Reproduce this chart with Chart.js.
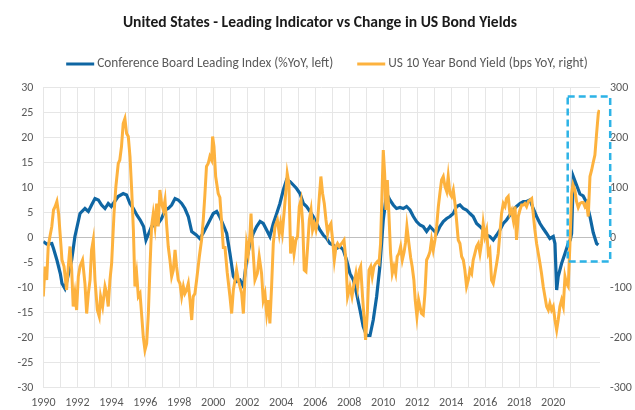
<!DOCTYPE html>
<html><head><meta charset="utf-8">
<script src="https://cdn.jsdelivr.net/npm/chart.js@4/dist/chart.umd.min.js"></script>
<style>html,body{margin:0;padding:0;background:#fff}#wrap{width:635px;height:410px}</style>
</head><body><div id="wrap"><canvas id="c" width="635" height="410"></canvas></div>
<script>
const chartTitle = 'United States - Leading Indicator vs Change in US Bond Yields';
const seriesNames = ['Conference Board Leading Index (%YoY, left)', 'US 10 Year Bond Yield (bps YoY, right)'];

const leadYears = [1990.0,1990.2,1990.5,1990.6,1990.8,1991.0,1991.1,1991.27,1991.4,1991.67,1991.86,1992.16,1992.45,1992.65,1992.84,1993.04,1993.24,1993.43,1993.63,1993.82,1994.0,1994.2,1994.4,1994.7,1994.9,1995.1,1995.3,1995.5,1995.7,1995.9,1996.04,1996.2,1996.37,1996.57,1996.76,1996.96,1997.16,1997.35,1997.55,1997.75,1997.94,1998.14,1998.33,1998.53,1998.73,1999.0,1999.2,1999.4,1999.7,2000.0,2000.2,2000.4,2000.59,2000.79,2000.98,2001.18,2001.37,2001.57,2001.77,2001.96,2002.16,2002.35,2002.55,2002.75,2002.94,2003.14,2003.33,2003.53,2003.73,2003.92,2004.12,2004.31,2004.51,2004.71,2004.9,2005.1,2005.3,2005.49,2005.69,2005.88,2006.08,2006.27,2006.47,2006.67,2006.86,2007.06,2007.25,2007.45,2007.65,2007.84,2008.04,2008.24,2008.43,2008.63,2008.82,2009.02,2009.22,2009.41,2009.61,2009.8,2010.0,2010.1,2010.2,2010.39,2010.59,2010.78,2010.98,2011.18,2011.37,2011.57,2011.77,2011.96,2012.16,2012.35,2012.55,2012.75,2012.94,2013.14,2013.33,2013.53,2013.73,2013.92,2014.12,2014.31,2014.51,2014.71,2014.9,2015.1,2015.29,2015.49,2015.69,2015.88,2016.08,2016.27,2016.47,2016.67,2016.86,2017.06,2017.25,2017.45,2017.65,2017.84,2018.04,2018.24,2018.43,2018.63,2018.82,2019.02,2019.22,2019.41,2019.61,2019.8,2020.0,2020.1,2020.2,2020.29,2020.49,2020.69,2020.88,2021.0,2021.08,2021.18,2021.37,2021.57,2021.76,2021.96,2022.16,2022.35,2022.55,2022.65];
const leadValues = [-0.8,-1.3,-1.2,-2.2,-4.5,-7.2,-9.2,-10.2,-8.5,-4.5,0.2,4.8,5.8,5.2,6.5,7.8,7.5,6.5,5.8,6.8,6.2,7.2,8.2,8.8,8.5,6.8,5.8,4.5,3.5,2.2,-0.5,0.8,2.2,2.5,2.8,3.8,5.5,5.8,6.5,7.8,7.5,6.8,5.8,4.2,1.2,0.5,-0.2,0.8,2.8,4.8,5.2,4.0,2.5,0.8,-3.2,-7.8,-8.8,-8.5,-9.8,-4.5,-1.2,0.8,2.2,3.2,2.8,1.5,0.2,2.8,4.8,6.8,9.5,11.5,11.2,10.5,9.8,8.8,6.8,6.2,5.2,4.2,2.8,1.5,0.5,-0.2,-1.2,-1.5,-2.2,-1.8,-2.5,-4.5,-7.2,-8.5,-11.2,-14.5,-17.8,-19.6,-19.6,-16.5,-11.8,-5.8,3.5,6.2,8.8,7.5,6.5,5.8,6.0,5.8,6.2,5.5,4.2,3.2,2.5,2.2,1.2,2.2,1.5,0.8,2.2,3.2,3.8,4.2,4.8,6.2,6.5,5.8,5.5,4.8,4.2,2.8,2.2,1.5,0.5,0.2,-0.5,0.5,1.5,2.8,3.5,4.5,5.5,6.2,6.8,7.2,7.2,7.5,5.8,4.2,2.8,1.8,0.8,-0.2,0.2,-1.2,-10.5,-7.8,-5.2,-3.2,-1.2,-0.5,0.8,12.2,10.5,8.7,8.3,7.0,4.2,1.0,-1.2,-1.5];

const yieldYears = [1990.0,1990.1,1990.2,1990.29,1990.39,1990.5,1990.6,1990.7,1990.8,1990.9,1991.0,1991.1,1991.22,1991.37,1991.47,1991.57,1991.67,1991.76,1991.86,1991.96,1992.06,1992.16,1992.31,1992.45,1992.55,1992.65,1992.75,1992.84,1992.94,1993.04,1993.18,1993.29,1993.37,1993.49,1993.63,1993.73,1993.82,1993.92,1994.02,1994.16,1994.27,1994.41,1994.5,1994.6,1994.7,1994.8,1994.9,1995.0,1995.1,1995.2,1995.3,1995.39,1995.49,1995.59,1995.69,1995.78,1995.88,1995.98,1996.08,1996.18,1996.27,1996.37,1996.47,1996.57,1996.67,1996.76,1996.86,1996.96,1997.06,1997.16,1997.25,1997.35,1997.45,1997.55,1997.65,1997.75,1997.84,1997.94,1998.04,1998.14,1998.24,1998.33,1998.43,1998.53,1998.63,1998.73,1998.82,1998.92,1999.02,1999.18,1999.31,1999.41,1999.5,1999.6,1999.7,1999.8,1999.9,1999.96,2000.04,2000.14,2000.29,2000.39,2000.49,2000.59,2000.69,2000.82,2000.98,2001.08,2001.18,2001.28,2001.37,2001.47,2001.57,2001.67,2001.77,2001.86,2001.96,2002.06,2002.16,2002.22,2002.29,2002.35,2002.45,2002.59,2002.7,2002.84,2002.94,2003.04,2003.14,2003.24,2003.33,2003.43,2003.53,2003.63,2003.77,2003.88,2003.96,2004.06,2004.16,2004.26,2004.35,2004.45,2004.55,2004.65,2004.75,2004.86,2004.96,2005.06,2005.16,2005.26,2005.35,2005.45,2005.55,2005.65,2005.75,2005.84,2005.94,2006.04,2006.14,2006.24,2006.33,2006.43,2006.53,2006.63,2006.73,2006.82,2006.92,2007.02,2007.12,2007.22,2007.31,2007.41,2007.55,2007.69,2007.8,2007.9,2008.04,2008.16,2008.28,2008.39,2008.49,2008.59,2008.67,2008.78,2008.88,2008.96,2009.06,2009.16,2009.26,2009.35,2009.45,2009.55,2009.65,2009.75,2009.84,2009.92,2010.0,2010.08,2010.16,2010.24,2010.33,2010.43,2010.53,2010.63,2010.73,2010.82,2010.92,2011.02,2011.12,2011.22,2011.31,2011.39,2011.5,2011.61,2011.7,2011.8,2011.88,2011.98,2012.08,2012.16,2012.25,2012.35,2012.45,2012.55,2012.65,2012.75,2012.84,2012.94,2013.04,2013.14,2013.24,2013.33,2013.43,2013.53,2013.63,2013.73,2013.82,2013.92,2014.02,2014.12,2014.22,2014.31,2014.41,2014.51,2014.61,2014.71,2014.8,2014.9,2015.0,2015.1,2015.2,2015.29,2015.39,2015.49,2015.59,2015.69,2015.78,2015.88,2015.98,2016.08,2016.18,2016.27,2016.37,2016.47,2016.57,2016.67,2016.76,2016.86,2016.96,2017.06,2017.16,2017.25,2017.35,2017.45,2017.55,2017.65,2017.75,2017.84,2017.94,2018.04,2018.14,2018.24,2018.33,2018.43,2018.53,2018.63,2018.73,2018.82,2018.92,2019.02,2019.12,2019.22,2019.31,2019.41,2019.51,2019.61,2019.71,2019.8,2019.9,2020.0,2020.1,2020.2,2020.29,2020.39,2020.49,2020.59,2020.69,2020.78,2020.88,2020.98,2021.08,2021.16,2021.27,2021.37,2021.47,2021.57,2021.67,2021.76,2021.86,2021.96,2022.06,2022.16,2022.26,2022.35,2022.45,2022.55,2022.65,2022.71];
const yieldValues = [-118,-58,-85,-18,2,22,55,62,72,48,2,-45,-58,-105,-58,-18,-65,-138,-112,-145,-78,-58,-45,-92,-152,-112,-85,-25,-5,-85,-145,-158,-118,-138,-98,-112,-138,-85,-52,48,102,148,155,182,228,238,208,202,162,95,15,-98,-72,-118,-112,-152,-198,-225,-212,-152,-65,22,48,22,68,22,95,68,55,75,28,-18,-45,-78,-65,-25,-58,-85,-92,-118,-98,-112,-105,-92,-125,-165,-118,-112,-85,-38,-5,35,82,142,148,162,155,202,182,122,88,80,30,-20,-20,-70,-118,-152,-105,-85,-65,-85,-98,-112,-152,-85,-12,-32,8,48,-5,-32,-85,-72,-38,-72,-125,-112,-152,-125,-172,-98,-12,22,35,8,28,8,48,88,128,108,-32,2,-32,-5,2,62,75,28,-65,-68,-18,35,55,15,28,15,35,82,122,88,68,35,8,22,28,-5,-45,-18,-12,-18,-12,-5,-45,-118,-98,-118,-92,-72,-98,-65,-58,-118,-165,-205,-152,-65,-58,-78,-58,-52,-48,-52,-12,82,175,128,55,115,48,-32,-72,-58,-72,-38,-32,-18,-45,-30,-10,22,-10,-40,-58,-85,-125,-158,-125,-138,-152,-155,-112,-45,-38,-28,-5,-25,-5,22,62,88,115,122,102,92,122,88,82,95,68,35,-5,-12,-38,-45,-65,-98,-85,-65,-72,-45,-32,-18,-12,-32,-12,28,2,15,-32,-25,-85,-92,-72,-52,-32,8,48,68,62,78,82,48,55,35,62,-5,42,55,65,65,68,62,72,75,78,48,15,-12,-32,-52,-72,-98,-118,-138,-145,-132,-145,-138,-165,-185,-165,-138,-125,-138,-78,-92,-98,-15,88,106,95,72,60,68,70,70,62,68,42,122,135,150,165,208,248,255];

const leftTicks = [-30,-25,-20,-15,-10,-5,0,5,10,15,20,25,30];
const rightTicks = [-300,-200,-100,0,100,200,300];
const xRange = [1990, 2022.75];
// highlight annotation, in x-years and right-axis units
const highlight = {from: 2020.85, to: 2023.35, top: 282, bottom: -48};

const FONT = 'Carlito, Calibri, Lato, "Liberation Sans", sans-serif';
const BLUE = '#0F66A3';
const ORANGE = '#FDB23E';
const TEXT = '#595959';

const headerPlugin = {
  id: 'header',
  afterDraw(chart) {
    const ctx = chart.ctx;
    ctx.save();
    ctx.fillStyle = '#1A1A1A';
    ctx.font = 'bold 15.6px ' + FONT;
    ctx.textAlign = 'center';
    ctx.textBaseline = 'middle';
    ctx.fillText(chartTitle, 320, 23);
    ctx.font = '13.3px ' + FONT;
    const sample = 28, gap = 3, between = 24;
    const w0 = ctx.measureText(seriesNames[0]).width;
    const w1 = ctx.measureText(seriesNames[1]).width;
    const total = sample + gap + w0 + between + sample + gap + w1;
    let x = 327 - total / 2;
    const y = 64;
    const colors = [BLUE, ORANGE];
    const widths = [w0, w1];
    ctx.textAlign = 'left';
    for (let i = 0; i < 2; i++) {
      ctx.strokeStyle = colors[i];
      ctx.lineWidth = 3;
      ctx.beginPath(); ctx.moveTo(x, y); ctx.lineTo(x + sample, y); ctx.stroke();
      x += sample + gap;
      ctx.fillStyle = TEXT;
      ctx.fillText(seriesNames[i], x, y);
      x += widths[i] + between;
    }
    ctx.restore();
  }
};

const boxPlugin = {
  id: 'highlightBox',
  afterDatasetsDraw(chart) {
    const xs = chart.scales.x, ys = chart.scales.y2;
    const x0 = xs.getPixelForValue(highlight.from), x1 = xs.getPixelForValue(highlight.to);
    const y0 = ys.getPixelForValue(highlight.top), y1 = ys.getPixelForValue(highlight.bottom);
    const ctx = chart.ctx;
    ctx.save();
    ctx.strokeStyle = '#2DB3E6';
    ctx.lineWidth = 2.5;
    ctx.setLineDash([7, 4]);
    ctx.strokeRect(x0, y0, x1 - x0, y1 - y0);
    ctx.restore();
  }
};

const toPoints = (xs, vs) => xs.map((x, i) => ({x, y: vs[i]}));

new Chart(document.getElementById('c'), {
  type: 'line',
  data: {
    datasets: [
      {label: seriesNames[1], data: toPoints(yieldYears, yieldValues), yAxisID: 'y2', borderColor: ORANGE, borderWidth: 3, pointRadius: 0, tension: 0, order: 1},
      {label: seriesNames[0], data: toPoints(leadYears, leadValues), yAxisID: 'y', borderColor: BLUE, borderWidth: 3.2, pointRadius: 0, tension: 0, order: 2}
    ]
  },
  options: {
    responsive: false,
    animation: false,
    devicePixelRatio: 1,
    layout: {padding: {top: 87.5, left: 0, right: 0, bottom: 0}},
    plugins: {legend: {display: false}, title: {display: false}, tooltip: {enabled: false}},
    scales: {
      x: {
        type: 'linear', min: xRange[0], max: xRange[1],
        afterFit: s => { s.height = 22.5; },
        border: {display: false},
        grid: {color: c => Number.isInteger(c.tick.value) ? '#E6E6E6' : 'rgba(0,0,0,0)', drawTicks: false},
        ticks: {stepSize: 1, autoSkip: false, maxRotation: 0, padding: 8, color: TEXT, font: {family: FONT, size: 12},
          callback: v => (Number.isInteger(v) && v % 2 === 0) ? String(v) : ''}
      },
      y: {
        position: 'left', min: -30, max: 30,
        afterFit: s => { s.width = 43.3; },
        afterBuildTicks: s => { s.ticks = leftTicks.map(v => ({value: v})); },
        border: {display: false},
        grid: {color: c => c.tick.value === 0 ? '#BFBFBF' : '#E6E6E6', drawTicks: false},
        ticks: {padding: 10, color: TEXT, font: {family: FONT, size: 12}}
      },
      y2: {
        position: 'right', min: -300, max: 300,
        afterFit: s => { s.width = 35; },
        afterBuildTicks: s => { s.ticks = rightTicks.map(v => ({value: v})); },
        border: {display: false},
        grid: {display: false, drawTicks: false},
        ticks: {padding: 10, color: TEXT, font: {family: FONT, size: 12}}
      }
    }
  },
  plugins: [headerPlugin, boxPlugin]
});
</script>
</body></html>
